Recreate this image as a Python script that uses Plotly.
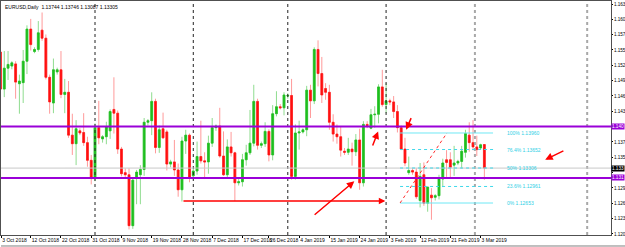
import plotly.graph_objects as go

# ---------------- data (EURUSD, Daily) ----------------
dates = [
 "2018-10-03","2018-10-04","2018-10-05","2018-10-07","2018-10-08","2018-10-09","2018-10-10","2018-10-11","2018-10-12",
 "2018-10-14","2018-10-15","2018-10-16","2018-10-17","2018-10-18","2018-10-19","2018-10-21","2018-10-22","2018-10-23",
 "2018-10-24","2018-10-25","2018-10-26","2018-10-28","2018-10-29","2018-10-30","2018-10-31",
 "2018-11-01","2018-11-02","2018-11-04","2018-11-05","2018-11-06","2018-11-07","2018-11-08","2018-11-09","2018-11-11",
 "2018-11-12","2018-11-13","2018-11-14","2018-11-15","2018-11-16","2018-11-18","2018-11-19","2018-11-20","2018-11-21",
 "2018-11-22","2018-11-23","2018-11-25","2018-11-26","2018-11-27","2018-11-28","2018-11-29","2018-11-30",
 "2018-12-02","2018-12-03","2018-12-04","2018-12-05","2018-12-06","2018-12-07","2018-12-09","2018-12-10","2018-12-11",
 "2018-12-12","2018-12-13","2018-12-14","2018-12-16","2018-12-17","2018-12-18","2018-12-19","2018-12-20","2018-12-21",
 "2018-12-23","2018-12-24","2018-12-26","2018-12-27","2018-12-28","2018-12-30","2018-12-31",
 "2019-01-01","2019-01-02","2019-01-03","2019-01-04","2019-01-06","2019-01-07","2019-01-08","2019-01-09","2019-01-10",
 "2019-01-11","2019-01-14","2019-01-15","2019-01-16","2019-01-17","2019-01-18","2019-01-20","2019-01-21","2019-01-22",
 "2019-01-23","2019-01-24","2019-01-25","2019-01-27","2019-01-28","2019-01-29","2019-01-30","2019-01-31",
 "2019-02-01","2019-02-03","2019-02-04","2019-02-05","2019-02-06","2019-02-07","2019-02-08","2019-02-10","2019-02-11",
 "2019-02-12","2019-02-13","2019-02-14","2019-02-15","2019-02-17","2019-02-18","2019-02-19","2019-02-20","2019-02-21",
 "2019-02-22","2019-02-24","2019-02-25","2019-02-26","2019-02-27","2019-02-28",
 "2019-03-01","2019-03-03","2019-03-04",
]
opens = [
 1.1547,1.1478,1.1517,1.1521,1.1525,1.1488,1.1490,1.1530,1.1590,
 1.1548,1.1552,1.1588,1.1573,1.1500,1.1452,1.1510,1.1514,1.1468,
 1.1472,1.1392,1.1376,1.1400,1.1397,1.1378,1.1345,
 1.1313,1.1406,1.1385,1.1389,1.1400,1.1440,1.1433,1.1366,1.1322,
 1.1318,1.1223,1.1312,1.1318,1.1328,1.1416,1.1419,1.1455,1.1369,
 1.1404,1.1398,1.1338,1.1342,1.1327,1.1290,1.1381,1.1392,
 1.1316,1.1325,1.1352,1.1344,1.1342,1.1377,1.1406,1.1409,1.1353,
 1.1318,1.1370,1.1359,1.1303,1.1305,1.1346,1.1359,1.1377,1.1455,
 1.1373,1.1376,1.1399,1.1355,1.1432,1.1445,1.1443,
 1.1465,1.1466,1.1315,1.1396,1.1398,1.1402,1.1476,1.1456,1.1552,
 1.1507,1.1479,1.1472,1.1416,1.1394,1.1389,1.1362,1.1360,1.1366,
 1.1361,1.1383,1.1303,1.1412,1.1405,1.1430,1.1431,1.1482,
 1.1449,1.1456,1.1454,1.1436,1.1406,1.1366,1.1322,1.1326,1.1323,
 1.1270,1.1318,1.1265,1.1280,1.1276,1.1279,1.1310,1.1346,1.1346,
 1.1336,1.1340,1.1343,1.1360,1.1392,1.1378,
 1.1370,1.1368,1.13744,
]
highs = [
 1.1590,1.1549,1.1549,1.1530,1.1530,1.1505,1.1551,1.1597,1.1609,
 1.1556,1.1605,1.1621,1.1580,1.1505,1.1535,1.1518,1.1549,1.1497,
 1.1493,1.1432,1.1420,1.1405,1.1433,1.1389,1.1355,
 1.1414,1.1456,1.1392,1.1417,1.1440,1.1500,1.1438,1.1370,1.1330,
 1.1330,1.1312,1.1327,1.1336,1.1424,1.1422,1.1472,1.1460,1.1410,
 1.1434,1.1402,1.1346,1.1383,1.1339,1.1389,1.1402,1.1395,
 1.1330,1.1380,1.1419,1.1360,1.1391,1.1424,1.1412,1.1443,1.1399,
 1.1384,1.1398,1.1361,1.1310,1.1357,1.1374,1.1439,1.1486,1.1460,
 1.1380,1.1416,1.1403,1.1448,1.1474,1.1450,1.1472,
 1.1470,1.1497,1.1412,1.1419,1.1405,1.1484,1.1486,1.1556,1.1569,
 1.1538,1.1489,1.1486,1.1431,1.1412,1.1409,1.1368,1.1387,1.1378,
 1.1394,1.1404,1.1418,1.1418,1.1441,1.1446,1.1487,1.1514,
 1.1489,1.1460,1.1465,1.1448,1.1410,1.1387,1.1352,1.1330,1.1330,
 1.1340,1.1341,1.1295,1.1293,1.1282,1.1318,1.1348,1.1364,1.1360,
 1.1372,1.1346,1.1372,1.1402,1.1416,1.1420,
 1.1391,1.1376,1.13746,
]
lows = [
 1.1463,1.1463,1.1495,1.1515,1.1460,1.1432,1.1452,1.1506,1.1550,
 1.1545,1.1548,1.1568,1.1496,1.1432,1.1433,1.1505,1.1461,1.1433,
 1.1387,1.1355,1.1336,1.1392,1.1372,1.1333,1.1300,
 1.1306,1.1375,1.1378,1.1375,1.1385,1.1395,1.1357,1.1315,1.1310,
 1.1216,1.1217,1.1263,1.1263,1.1316,1.1410,1.1392,1.1358,1.1359,
 1.1385,1.1326,1.1332,1.1316,1.1277,1.1268,1.1357,1.1304,
 1.1310,1.1318,1.1339,1.1310,1.1320,1.1370,1.1400,1.1350,1.1316,
 1.1311,1.1352,1.1269,1.1298,1.1296,1.1335,1.1355,1.1371,1.1365,
 1.1368,1.1370,1.1343,1.1345,1.1427,1.1440,1.1429,
 1.1460,1.1309,1.1309,1.1365,1.1395,1.1390,1.1424,1.1450,1.1483,
 1.1452,1.1458,1.1402,1.1380,1.1376,1.1352,1.1355,1.1355,1.1335,
 1.1353,1.1290,1.1296,1.1405,1.1403,1.1406,1.1414,1.1445,
 1.1433,1.1448,1.1424,1.1397,1.1364,1.1334,1.1318,1.1318,1.1273,
 1.1257,1.1260,1.1249,1.1234,1.1270,1.1272,1.1295,1.1314,1.1312,
 1.1316,1.1336,1.1330,1.1350,1.1361,1.1364,
 1.1353,1.1365,1.13087,
]
closes = [
 1.1478,1.1517,1.1524,1.1527,1.1491,1.1493,1.1530,1.1590,1.1561,
 1.1552,1.1583,1.1573,1.1500,1.1454,1.1514,1.1514,1.1468,1.1472,
 1.1392,1.1376,1.1404,1.1396,1.1378,1.1345,1.1313,
 1.1406,1.1387,1.1389,1.1407,1.1436,1.1433,1.1366,1.1320,1.1318,
 1.1223,1.1308,1.1323,1.1328,1.1416,1.1419,1.1455,1.1369,1.1402,
 1.1387,1.1338,1.1342,1.1327,1.1290,1.1381,1.1392,1.1314,
 1.1325,1.1352,1.1344,1.1342,1.1377,1.1406,1.1409,1.1353,1.1318,
 1.1370,1.1359,1.1303,1.1305,1.1346,1.1359,1.1377,1.1455,1.1373,
 1.1376,1.1399,1.1355,1.1432,1.1445,1.1443,1.1467,
 1.1466,1.1315,1.1396,1.1398,1.1402,1.1476,1.1456,1.1552,1.1507,
 1.1467,1.1472,1.1416,1.1394,1.1389,1.1364,1.1360,1.1366,1.1361,
 1.1383,1.1303,1.1412,1.1410,1.1430,1.1431,1.1482,1.1449,
 1.1456,1.1454,1.1436,1.1406,1.1366,1.1340,1.1326,1.1323,1.1277,
 1.1315,1.1265,1.1295,1.1275,1.1279,1.1310,1.1340,1.1341,1.1332,
 1.1340,1.1343,1.1362,1.1395,1.1378,1.1370,
 1.1365,1.1374,1.13305,
]

# x-axis labels (bar index, text)
xtick_idx = [0.2, 8, 16, 24, 32, 40, 48, 56, 64, 71, 79, 87, 95, 103, 111, 119, 127]
xtick_text = ["3 Oct 2018", "12 Oct 2018", "22 Oct 2018", "31 Oct 2018", "9 Nov 2018", "19 Nov 2018",
              "28 Nov 2018", "7 Dec 2018", "17 Dec 2018", "26 Dec 2018", "4 Jan 2019", "15 Jan 2019",
              "24 Jan 2019", "3 Feb 2019", "12 Feb 2019", "21 Feb 2019", "3 Mar 2019"]

# y-axis price scale labels (the visible part of the price scale)
ytick_vals = [1.16368, 1.16082, 1.15796, 1.15510, 1.15223, 1.14937, 1.14651, 1.14365,
              1.14079, 1.13792, 1.13506, 1.13220, 1.12934, 1.12648, 1.12362, 1.12075]
ytick_text = ["1.163", "1.160", "1.157", "1.155", "1.152", "1.149", "1.146", "1.143",
              "", "1.137", "1.135", "", "1.129", "1.126", "1.123", "1.120"]

# horizontal levels
purple_levels = [1.14081, 1.13120]
purple_text = ["1.140", "1.131"]
bid_price = 1.13305
bid_text = "1.133"
support_price = 1.1269           # red horizontal line
support_from, support_to = 48, 101.8

# Fibonacci retracement
fib_low, fib_high = 1.12653, 1.13960
fib_levels = [0.0, 0.236, 0.5, 0.764, 1.0]
fib_names = ["0%", "23.6%", "50%", "76.4%", "100%"]
fib_x0, fib_x1, fib_x2 = 105.7, 118.1, 130.3

# red arrows drawn on chart: (x_from, price_from, x_to, price_to)
arrows = [
    (82.7, 1.12410, 93.6, 1.13060),
    (108.8, 1.14265, 107.3, 1.14022),
    (98.3, 1.13700, 99.9, 1.13990),
    (149.3, 1.13640, 144.1, 1.13460),
]
vlines_gray = [125.5, 155.2]

header = "EURUSD,Daily  1.13744 1.13746 1.13087 1.13305"

# ---------------- figure ----------------
x = list(range(len(dates)))
body_hi = [max(o, c) for o, c in zip(opens, closes)]
body_lo = [min(o, c) for o, c in zip(opens, closes)]

fig = go.Figure()
fig.add_trace(go.Candlestick(
    x=x, open=opens, high=highs, low=lows, close=closes,
    increasing=dict(line=dict(color="#8fdc8f", width=1), fillcolor="#8fdc8f"),
    decreasing=dict(line=dict(color="#ff9a9a", width=1), fillcolor="#ff9a9a"),
    whiskerwidth=0, hoverinfo="skip", showlegend=False))
fig.add_trace(go.Candlestick(
    x=x, open=opens, high=body_hi, low=body_lo, close=closes,
    increasing=dict(line=dict(color="#1fbf1f", width=0.6), fillcolor="#1fbf1f"),
    decreasing=dict(line=dict(color="#ff1010", width=0.6), fillcolor="#ff1010"),
    whiskerwidth=0, hoverinfo="skip", showlegend=False))

shapes = []
# month separators
for i in range(1, len(dates)):
    if dates[i][5:7] != dates[i - 1][5:7] and i < 120:
        shapes.append(dict(type="line", xref="x", yref="paper", x0=i, x1=i, y0=0, y1=1,
                           line=dict(color="#222222", width=1, dash="dot")))
for v in vlines_gray:
    shapes.append(dict(type="line", xref="x", yref="paper", x0=v, x1=v, y0=0, y1=1,
                       line=dict(color="#a8a8a8", width=2, dash="dot")))
# bid line
shapes.append(dict(type="line", xref="paper", yref="y", x0=0, x1=1, y0=bid_price, y1=bid_price,
                   line=dict(color="#c8c8c8", width=1)))
# purple lines
for p in purple_levels:
    shapes.append(dict(type="line", xref="paper", yref="y", x0=0, x1=1, y0=p, y1=p,
                       line=dict(color="#9a00d8", width=2)))
# fib lines
for lv in fib_levels:
    pr = fib_low + lv * (fib_high - fib_low)
    solid = lv in (0.0, 1.0)
    shapes.append(dict(type="line", xref="x", yref="y", x0=fib_x0, x1=fib_x2, y0=pr, y1=pr,
                       line=dict(color="#6fe8f5" if solid else "#3fd8ea", width=1,
                                 dash="solid" if solid else "dot")))
shapes.append(dict(type="line", xref="x", yref="y", x0=fib_x0, x1=fib_x1, y0=fib_low, y1=fib_high,
                   line=dict(color="#ff3030", width=1, dash="dot")))
# window bottom border
shapes.append(dict(type="line", xref="paper", yref="paper", x0=0, x1=1.03, y0=-0.047, y1=-0.047,
                   line=dict(color="#808080", width=1)))

annotations = []
# fib labels
for lv, nm in zip(fib_levels, fib_names):
    pr = fib_low + lv * (fib_high - fib_low)
    annotations.append(dict(x=fib_x2 + 3.2, y=pr, xref="x", yref="y", text="%s %.5f" % (nm, pr),
                            showarrow=False, xanchor="left", yanchor="middle",
                            font=dict(family="Liberation Sans", size=5, color="#2fd0e6")))
# red support line with arrow
annotations.append(dict(x=support_to, y=support_price, ax=support_from, ay=support_price,
                        xref="x", yref="y", axref="x", ayref="y", showarrow=True, text="",
                        arrowhead=2, arrowsize=1, arrowwidth=1.3, arrowcolor="#ff0000", standoff=0))
for (xa, ya, xb, yb) in arrows:
    annotations.append(dict(x=xb, y=yb, ax=xa, ay=ya, xref="x", yref="y", axref="x", ayref="y",
                            showarrow=True, text="", arrowhead=2, arrowsize=1, arrowwidth=1.5,
                            arrowcolor="#ff0000", standoff=0))
# price labels on axis
for p, t in zip(purple_levels, purple_text):
    annotations.append(dict(x=1.0, y=p, xref="paper", yref="y", text=t, showarrow=False,
                            xanchor="left", yanchor="middle", bgcolor="#9a00d8", borderpad=0,
                            font=dict(family="Liberation Sans", size=4.6, color="white")))
annotations.append(dict(x=1.0, y=bid_price, xref="paper", yref="y", text=bid_text,
                        showarrow=False, xanchor="left", yanchor="middle", bgcolor="#000000",
                        borderpad=0, font=dict(family="Liberation Sans", size=4.6, color="white")))
annotations.append(dict(x=0.004, y=0.995, xref="paper", yref="paper", text=header, showarrow=False,
                        xanchor="left", yanchor="top",
                        font=dict(family="Liberation Sans", size=5, color="#000000")))

fig.update_layout(
    width=625, height=247, margin=dict(l=1, r=14, t=1, b=12),
    paper_bgcolor="white", plot_bgcolor="white",
    shapes=shapes, annotations=annotations, showlegend=False,
    xaxis=dict(range=[0.132, 161.5], rangeslider=dict(visible=False), showgrid=False, zeroline=False,
               tickmode="array", tickvals=xtick_idx, ticktext=xtick_text, ticks="outside", ticklen=2,
               tickcolor="#000", showline=True, linecolor="#505050", linewidth=1, mirror=True,
               ticklabelposition="outside right", tickangle=0, automargin=False,
               tickfont=dict(family="Liberation Sans", size=5, color="#000")),
    yaxis=dict(range=[1.120556, 1.164243], side="right", showgrid=False, zeroline=False,
               tickmode="array", tickvals=ytick_vals, ticktext=ytick_text, ticks="outside", ticklen=1,
               tickcolor="#000", showline=True, linecolor="#505050", linewidth=1, mirror=True,
               automargin=False, tickfont=dict(family="Liberation Sans", size=4.6, color="#000")),
)
fig.write_html("out.html")
